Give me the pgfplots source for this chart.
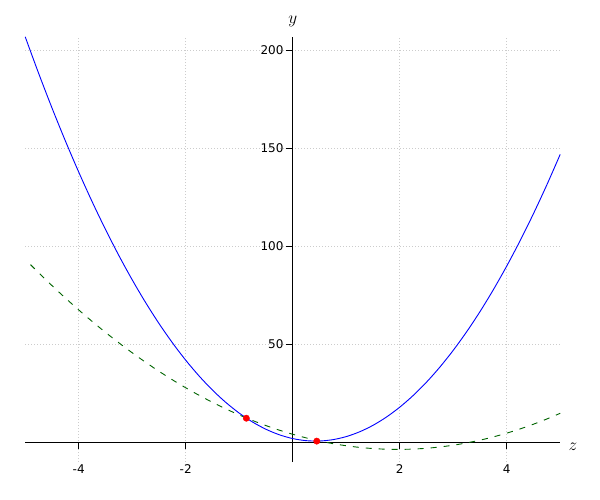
\documentclass[border=0pt]{standalone}
\usepackage{fontspec}
\setmainfont{DejaVu Sans}
\usepackage{pgfplots}
\pgfplotsset{compat=1.18}
\definecolor{curveblue}{RGB}{0,0,255}
\definecolor{dashgreen}{RGB}{0,100,0}
\begin{document}
\begin{tikzpicture}
\begin{axis}[
  scale only axis, width=535pt, height=425.3pt,
  xmin=-5, xmax=5, ymin=-10, ymax=207,
  axis lines=middle,
  axis line style={-, line width=0.8pt, black},
  tick align=outside, major tick length=7pt,
  tick style={black, line width=0.8pt},
  xtick={-4,-2,2,4}, xticklabels={-4,-2,2,4},
  ytick={50,100,150,200}, yticklabels={50,100,150,200},
  xticklabel style={font=\fontsize{12}{12}\selectfont, inner sep=0pt, anchor=north, yshift=-15pt},
  yticklabel style={font=\fontsize{12}{12}\selectfont, inner sep=0pt, anchor=east, xshift=-2pt},
  grid=major,
  grid style={black!20, line width=0.6pt, dash pattern=on 0.8pt off 2.2pt},
  clip=false,
]
% main curve
\addplot[curveblue, line width=0.9pt, smooth] coordinates {
(-5,207) (-4.75,188.44) (-4.5,170.75) (-4.25,153.94) (-4,138)
(-3.75,122.94) (-3.5,108.75) (-3.25,95.44) (-3,83) (-2.75,71.44)
(-2.5,60.75) (-2.25,50.94) (-2,42) (-1.75,33.94) (-1.5,26.75)
(-1.25,20.44) (-1,15) (-0.75,10.44) (-0.5,6.75) (-0.25,3.94)
(0,2) (0.25,0.94) (0.5,0.75) (0.75,1.44) (1,3)
(1.25,5.44) (1.5,8.75) (1.75,12.94) (2,18) (2.25,23.94)
(2.5,30.75) (2.75,38.44) (3,47) (3.25,56.44) (3.5,66.75)
(3.75,77.94) (4,90) (4.25,102.94) (4.5,116.75) (4.75,131.44) (5,147)
};
% dashed approximation
\addplot[dashgreen, line width=0.9pt, dash pattern=on 6pt off 7pt, smooth] coordinates {
(-4.9,90.73) (-4.75,86.66) (-4.5,80.07) (-4.25,73.73) (-4,67.64)
(-3.75,61.80) (-3.5,56.21) (-3.25,50.87) (-3,45.78) (-2.75,40.94)
(-2.5,36.35) (-2.25,32.01) (-2,27.92) (-1.75,24.08) (-1.5,20.49)
(-1.25,17.15) (-1,14.06) (-0.75,11.22) (-0.5,8.63) (-0.25,6.29)
(0,4.2) (0.25,2.36) (0.5,0.77) (0.75,-0.57) (1,-1.66)
(1.25,-2.50) (1.5,-3.09) (1.75,-3.43) (2,-3.52) (2.25,-3.36)
(2.5,-2.95) (2.75,-2.29) (3,-1.38) (3.25,-0.22) (3.5,1.19)
(3.75,2.85) (4,4.76) (4.25,6.92) (4.5,9.33) (4.75,11.99) (5,14.9)
};
\addplot[only marks, mark=*, mark size=3.2pt, red, mark options={draw=red, fill=red}] coordinates {
(-0.867,12.4) (0.45,0.7)
};
\node[font=\fontsize{17}{17}\selectfont] at (axis cs:0,215.05) {$y$};
\node[font=\fontsize{17}{17}\selectfont] at (axis cs:5.24,-2) {$z$};
\coordinate (bl) at (axis cs:-5.471,-29.34);
\coordinate (tr) at (axis cs:5.744,225.77);
\end{axis}
\path (bl) rectangle (tr);
\end{tikzpicture}
\end{document}
